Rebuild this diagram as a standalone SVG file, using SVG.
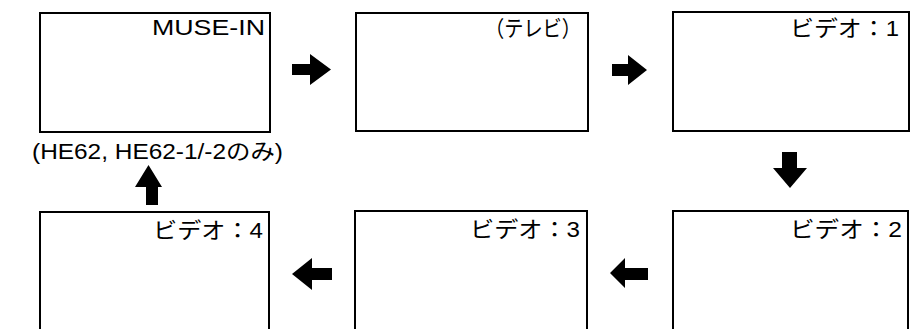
<svg xmlns="http://www.w3.org/2000/svg" width="918" height="329" viewBox="0 0 918 329">
<style>
.box{fill:#fff;stroke:#000;stroke-width:2}
.lbl{font-family:"Liberation Sans","Noto Sans CJK JP",sans-serif;font-size:22px;fill:#000;text-anchor:end}
.note{font-family:"Liberation Sans","Noto Sans CJK JP",sans-serif;font-size:22px;fill:#000}
.arr{fill:#000}
</style>
<rect width="918" height="329" fill="#fff"/>
<g id="muse">
<rect class="box" x="40" y="13" width="230" height="119"/>
<text class="lbl" x="265" y="35" textLength="113" lengthAdjust="spacingAndGlyphs">MUSE-IN</text>
<text class="note" x="32" y="159" textLength="251" lengthAdjust="spacingAndGlyphs">(HE62, HE62-1/-2のみ)</text>
</g>
<g id="tv">
<rect class="box" x="356" y="13" width="232" height="118"/>
<text class="lbl" x="581" y="36" textLength="96" lengthAdjust="spacingAndGlyphs">（テレビ）</text>
</g>
<g id="video1">
<rect class="box" x="673" y="12" width="236" height="119"/>
<text class="lbl" x="899" y="36" textLength="109" lengthAdjust="spacingAndGlyphs">ビデオ：1</text>
</g>
<g id="video2">
<rect class="box" x="673" y="211" width="235" height="140"/>
<text class="lbl" x="902" y="237" textLength="112" lengthAdjust="spacingAndGlyphs">ビデオ：2</text>
</g>
<g id="video3">
<rect class="box" x="355" y="211" width="232" height="140"/>
<text class="lbl" x="580" y="237" textLength="110" lengthAdjust="spacingAndGlyphs">ビデオ：3</text>
</g>
<g id="video4">
<rect class="box" x="40" y="212" width="229" height="140"/>
<text class="lbl" x="263" y="238" textLength="110" lengthAdjust="spacingAndGlyphs">ビデオ：4</text>
</g>
<g id="connectors">
<polygon class="arr" points="292,64 310,64 310,54 331,69.5 310,85 310,75 292,75"/>
<polygon class="arr" points="612,64 628,64 628,55 647,70 628,85 628,76 612,76"/>
<polygon class="arr" points="782,152 797,152 797,168 807,168 790,188 773,168 782,168"/>
<polygon class="arr" points="292,274 312,258 312,268 332,268 332,280 312,280 312,290"/>
<polygon class="arr" points="610,273 625,258 625,268 648,268 648,280 625,280 625,288"/>
<polygon class="arr" points="148.5,165 162,187 158,187 158,205 146,205 146,187 135,187"/>
</g>
</svg>
